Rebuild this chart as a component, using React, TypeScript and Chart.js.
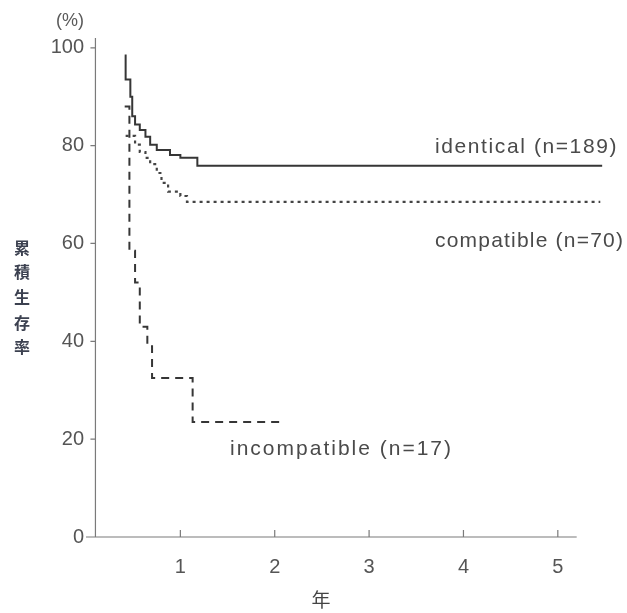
import React, { useEffect, useRef } from "react";
import { Chart, registerables } from "chart.js";

Chart.register(...registerables);

// Kaplan–Meier style cumulative survival (%) by years after transplant
const identicalTimes = [0.41, 0.42, 0.47, 0.49, 0.52, 0.57, 0.63, 0.68, 0.75, 0.89, 1.0, 1.18, 5.47];
const identicalValues = [98.4, 93.5, 90, 86, 84.3, 83.2, 81.8, 80.2, 79.1, 78.1, 77.5, 75.9, 75.9];

const compatibleTimes = [0.42, 0.52, 0.57, 0.63, 0.68, 0.75, 0.8, 0.87, 1.0, 1.07, 5.45];
const compatibleValues = [82, 80.2, 78.7, 77.5, 76.2, 74.4, 72.4, 70.6, 69.7, 68.5, 68.5];

const incompatibleTimes = [0.41, 0.46, 0.52, 0.57, 0.65, 0.7, 1.13, 2.06];
const incompatibleValues = [88, 58.5, 52, 43, 39, 32.5, 23.5, 23.5];

const seriesLabels = ["identical (n=189)", "compatible (n=70)", "incompatible (n=17)"];
const yTicks = [0, 20, 40, 60, 80, 100];
const xTicks = [1, 2, 3, 4, 5];
const yTitleChars = ["累", "積", "生", "存", "率"];
const xTitle = "年";
const yUnit = "(%)";

const toPoints = (t: number[], v: number[]) => t.map((x, i) => ({ x, y: v[i] }));

const INK = "#363636";
const TEXT = "#4a4a4a";
const SANS = '"Liberation Sans", Arial, sans-serif';

// hand-drawn style axes, tick marks and annotations
const annotate = {
  id: "annotate",
  afterDatasetsDraw(chart: any) {
    const { ctx, scales } = chart;
    const x = scales.x;
    const y = scales.y;
    const axisX = x.getPixelForValue(0.1);
    const axisY = y.getPixelForValue(0);
    ctx.save();
    ctx.strokeStyle = "#7a7a7a";
    ctx.lineWidth = 1.2;
    ctx.beginPath();
    ctx.moveTo(axisX, y.getPixelForValue(102));
    ctx.lineTo(axisX, axisY);
    ctx.moveTo(x.getPixelForValue(0), axisY);
    ctx.lineTo(x.getPixelForValue(5.2), axisY);
    for (const v of yTicks) {
      const py = y.getPixelForValue(v);
      ctx.moveTo(axisX - 5, py);
      ctx.lineTo(axisX, py);
    }
    for (const v of xTicks) {
      const px = x.getPixelForValue(v);
      ctx.moveTo(px, axisY);
      ctx.lineTo(px, axisY - 7);
    }
    ctx.stroke();

    ctx.fillStyle = TEXT;
    ctx.textBaseline = "alphabetic";
    ctx.textAlign = "left";
    ctx.font = `21px ${SANS}`;
    (ctx as any).letterSpacing = "1.6px";
    ctx.fillText(seriesLabels[0], 435, 153);
    (ctx as any).letterSpacing = "1.2px";
    ctx.fillText(seriesLabels[1], 435, 247);
    (ctx as any).letterSpacing = "2px";
    ctx.fillText(seriesLabels[2], 230, 455);
    (ctx as any).letterSpacing = "0px";

    ctx.textAlign = "center";
    ctx.textBaseline = "middle";
    ctx.font = `18px ${SANS}`;
    ctx.fillStyle = "#5a5a5a";
    ctx.fillText(yUnit, 70, 21);

    ctx.font = `bold 16px "Noto Sans CJK JP", sans-serif`;
    ctx.fillStyle = "#3c4150";
    const charY = [248, 272, 297, 323, 347];
    yTitleChars.forEach((c, i) => ctx.fillText(c, 22, charY[i]));

    ctx.font = `19px "Noto Sans CJK JP", sans-serif`;
    ctx.fillStyle = "#444";
    ctx.fillText(xTitle, 321, 600);
    ctx.restore();
  },
};

export default function App() {
  const ref = useRef<HTMLCanvasElement>(null);

  useEffect(() => {
    document.body.style.margin = "0";
    const canvas = ref.current;
    if (!canvas) return;
    const chart = new Chart(canvas, {
      type: "scatter",
      data: {
        datasets: [
          {
            label: seriesLabels[0],
            data: toPoints(identicalTimes, identicalValues),
            showLine: true,
            stepped: "before",
            borderColor: INK,
            borderWidth: 2,
            pointRadius: 0,
          },
          {
            label: seriesLabels[1],
            data: toPoints(compatibleTimes, compatibleValues),
            showLine: true,
            stepped: "before",
            borderColor: "#444",
            borderWidth: 2.2,
            borderDash: [3, 4],
            pointRadius: 0,
          },
          {
            label: seriesLabels[2],
            data: toPoints(incompatibleTimes, incompatibleValues),
            showLine: true,
            stepped: "before",
            borderColor: INK,
            borderWidth: 2,
            borderDash: [8, 6],
            pointRadius: 0,
          },
        ],
      },
      options: {
        responsive: false,
        animation: false,
        layout: { padding: { top: 38, right: 22, left: 0, bottom: 0 } },
        plugins: { legend: { display: false }, tooltip: { enabled: false } },
        scales: {
          x: {
            type: "linear",
            min: 0,
            max: 5.5,
            border: { display: false },
            grid: { display: false, drawTicks: false },
            afterFit: (s: any) => {
              s.height = 76;
            },
            afterBuildTicks: (s: any) => {
              s.ticks = xTicks.map((v) => ({ value: v }));
            },
            ticks: {
              padding: 18,
              color: "#555",
              font: { family: SANS, size: 20 },
              callback: (v: any) => String(v),
            },
          },
          y: {
            type: "linear",
            min: 0,
            max: 102,
            border: { display: false },
            grid: { display: false, drawTicks: false },
            afterFit: (s: any) => {
              s.width = 86;
            },
            afterBuildTicks: (s: any) => {
              s.ticks = yTicks.map((v) => ({ value: v }));
            },
            ticks: {
              padding: 2,
              color: "#555",
              font: { family: SANS, size: 20 },
              callback: (v: any) => String(v),
            },
          },
        },
      },
      plugins: [annotate],
    });
    return () => chart.destroy();
  }, []);

  return <canvas ref={ref} width={627} height={613} style={{ display: "block" }} />;
}
